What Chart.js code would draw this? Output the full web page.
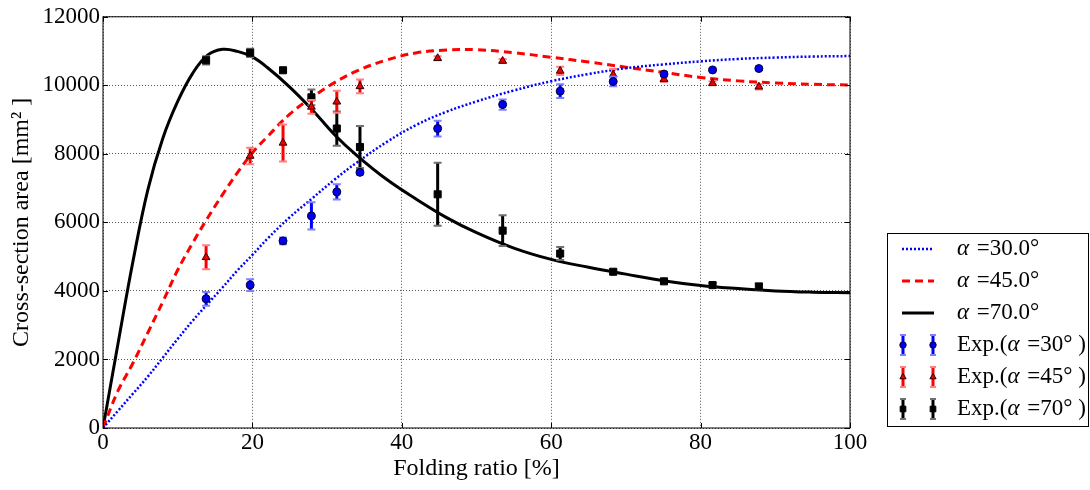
<!DOCTYPE html>
<html>
<head>
<meta charset="utf-8">
<script src="https://cdn.jsdelivr.net/npm/chart.js@4/dist/chart.umd.min.js"></script>
<style>
  body { margin: 0; background: #fff; }
  canvas { display: block; }
</style>
</head>
<body>
<canvas id="chart" width="1090" height="490"></canvas>
<script>
// theory curves
const curveX = [0, 2, 4, 6, 8, 10, 12, 14, 16, 18, 20, 22, 25, 28, 31, 34, 38, 42, 46, 50, 55, 60, 65, 70, 75, 80, 85, 90, 95, 100];
const curve30 = [0, 500, 1000, 1500, 2050, 2600, 3130, 3620, 4100, 4600, 5050, 5520, 6150, 6700, 7250, 7750, 8350, 8850, 9230, 9530, 9850, 10120, 10330, 10500, 10610, 10700, 10770, 10810, 10840, 10855];
const curve45 = [0, 1080, 1890, 2780, 3680, 4610, 5400, 6130, 6810, 7450, 8030, 8500, 9160, 9650, 10080, 10420, 10740, 10950, 11030, 11040, 10950, 10820, 10680, 10530, 10380, 10230, 10130, 10070, 10030, 10010];
const curve70 = [0, 2450, 4850, 6950, 8450, 9530, 10350, 10880, 11050, 10990, 10830, 10520, 9950, 9290, 8560, 7950, 7250, 6670, 6140, 5700, 5250, 4920, 4690, 4490, 4300, 4160, 4070, 4000, 3965, 3950];

// experiments
const expX = [13.8, 19.7, 24.1, 27.9, 31.3, 34.4, 44.8, 53.5, 61.2, 68.3, 75.1, 81.6, 87.8];
const exp30 = [3770, 4170, 5460, 6190, 6890, 7460, 8740, 9440, 9830, 10110, 10330, 10450, 10490];
const exp30Err = [200, 170, 100, 400, 220, 60, 230, 150, 200, 140, 60, 40, 40];
const exp45 = [4980, 7940, 8320, 9370, 9520, 9970, 10790, 10710, 10420, 10310, 10180, 10060, 9960];
const exp45Err = [350, 240, 540, 200, 320, 200, 60, 60, 120, 170, 80, 60, 80];
const exp70 = [10730, 10950, 10440, 9650, 8740, 8200, 6820, 5760, 5090, 4560, 4280, 4170, 4130];
const exp70Err = [120, 120, 50, 230, 500, 610, 920, 450, 190, 60, 60, 60, 90];

const xTicks = [0, 20, 40, 60, 80, 100];
const yTicks = [0, 2000, 4000, 6000, 8000, 10000, 12000];

const serif = "'Liberation Serif', 'DejaVu Serif', serif";

const pts = (xs, ys) => xs.map((x, i) => ({ x: x, y: ys[i] }));

const errorBars = {
  id: 'errorBars',
  beforeDatasetDraw(chart, args) {
    const ds = chart.data.datasets[args.index];
    if (!ds.errors) return;
    const ctx = chart.ctx, y = chart.scales.y;
    ctx.save();
    args.meta.data.forEach((p, i) => {
      const v = ds.data[i].y, e = ds.errors[i];
      const t = y.getPixelForValue(v + e), b = y.getPixelForValue(v - e);
      ctx.strokeStyle = ds.barColor;
      ctx.lineWidth = 3;
      ctx.beginPath();
      ctx.moveTo(p.x, t); ctx.lineTo(p.x, b);
      ctx.stroke();
      ctx.strokeStyle = ds.capColor;
      ctx.lineWidth = 2;
      ctx.beginPath();
      ctx.moveTo(p.x - 4, t); ctx.lineTo(p.x + 4, t);
      ctx.moveTo(p.x - 4, b); ctx.lineTo(p.x + 4, b);
      ctx.stroke();
    });
    ctx.restore();
  }
};

// axes frame with inward ticks
const frame = {
  id: 'frame',
  afterDraw(chart) {
    const { ctx, chartArea: a, scales } = chart;
    ctx.save();
    ctx.strokeStyle = '#000';
    ctx.lineWidth = 1;
    ctx.strokeRect(a.left, a.top, a.right - a.left, a.bottom - a.top);
    ctx.beginPath();
    xTicks.forEach(v => {
      const px = Math.round(scales.x.getPixelForValue(v)) + 0.5;
      ctx.moveTo(px, a.bottom); ctx.lineTo(px, a.bottom - 5);
      ctx.moveTo(px, a.top); ctx.lineTo(px, a.top + 5);
    });
    yTicks.forEach(v => {
      const py = Math.round(scales.y.getPixelForValue(v)) + 0.5;
      ctx.moveTo(a.left, py); ctx.lineTo(a.left + 5, py);
      ctx.moveTo(a.right, py); ctx.lineTo(a.right - 5, py);
    });
    ctx.stroke();
    ctx.restore();
  }
};

function drawLabel(ctx, text, x, y) {
  // alpha in italic, the rest upright
  const parts = text.split('α');
  let cx = x;
  parts.forEach((s, i) => {
    ctx.font = '23px ' + serif;
    ctx.fillText(s, cx, y);
    cx += ctx.measureText(s).width;
    if (i < parts.length - 1) {
      ctx.font = 'italic 23px ' + serif;
      ctx.fillText('α', cx, y);
      cx += ctx.measureText('α').width + 2;
    }
  });
}

const legendBox = {
  id: 'legendBox',
  afterDraw(chart) {
    const ctx = chart.ctx;
    const left = 887, top = 233, rowH = 32;
    ctx.save();
    ctx.strokeStyle = '#000';
    ctx.lineWidth = 1;
    ctx.strokeRect(left + 0.5, top + 0.5, 201, 193);
    ctx.textBaseline = 'middle';
    ctx.fillStyle = '#000';
    chart.data.datasets.forEach((ds, i) => {
      const y = top + 16 + i * rowH;
      if (!ds.errors) {
        ctx.strokeStyle = ds.borderColor;
        ctx.lineWidth = ds.borderWidth;
        ctx.setLineDash(ds.borderDash || []);
        ctx.beginPath();
        ctx.moveTo(902, y); ctx.lineTo(934, y);
        ctx.stroke();
        ctx.setLineDash([]);
      } else {
        [903, 933].forEach(mx => {
          ctx.strokeStyle = ds.barColor;
          ctx.lineWidth = 3;
          ctx.beginPath(); ctx.moveTo(mx, y - 10); ctx.lineTo(mx, y + 10); ctx.stroke();
          ctx.strokeStyle = ds.capColor;
          ctx.lineWidth = 2;
          ctx.beginPath();
          ctx.moveTo(mx - 3, y - 10); ctx.lineTo(mx + 3, y - 10);
          ctx.moveTo(mx - 3, y + 10); ctx.lineTo(mx + 3, y + 10);
          ctx.stroke();
          ctx.fillStyle = ds.backgroundColor;
          ctx.strokeStyle = ds.borderColor;
          ctx.lineWidth = 1;
          Chart.helpers.drawPoint(ctx, {
            pointStyle: ds.pointStyle, radius: ds.pointRadius * 0.8, borderWidth: 1, rotation: 0
          }, mx, y);
        });
        ctx.fillStyle = '#000';
      }
      drawLabel(ctx, ds.label, 957, y);
    });
    ctx.restore();
  }
};

new Chart(document.getElementById('chart'), {
  type: 'scatter',
  data: {
    datasets: [
      { type: 'line', label: 'α =30.0°', data: pts(curveX, curve30), borderColor: '#0000ff', borderWidth: 2.5, borderDash: [2, 2], pointRadius: 0, tension: 0.4, order: 2 },
      { type: 'line', label: 'α =45.0°', data: pts(curveX, curve45), borderColor: '#ff0000', borderWidth: 3, borderDash: [8, 5], pointRadius: 0, tension: 0.4, order: 2 },
      { type: 'line', label: 'α =70.0°', data: pts(curveX, curve70), borderColor: '#000000', borderWidth: 3, pointRadius: 0, tension: 0.4, order: 2 },
      { label: 'Exp.(α =30° )', data: pts(expX, exp30), errors: exp30Err, barColor: '#0000ff', capColor: '#8080ff', pointStyle: 'circle', pointRadius: 4, backgroundColor: '#0000ee', borderColor: '#000033', borderWidth: 1, order: 1 },
      { label: 'Exp.(α =45° )', data: pts(expX, exp45), errors: exp45Err, barColor: '#ff0000', capColor: '#ff8080', pointStyle: 'triangle', pointRadius: 4.5, backgroundColor: '#ee0000', borderColor: '#330000', borderWidth: 1, order: 1 },
      { label: 'Exp.(α =70° )', data: pts(expX, exp70), errors: exp70Err, barColor: '#000000', capColor: '#707070', pointStyle: 'rect', pointRadius: 5, backgroundColor: '#000000', borderColor: '#000000', borderWidth: 1, order: 1 }
    ]
  },
  options: {
    responsive: false,
    animation: false,
    layout: { padding: { top: 12, right: 240, bottom: 0, left: 0 } },
    plugins: { legend: { display: false }, tooltip: { enabled: false } },
    scales: {
      x: {
        type: 'linear', min: 0, max: 100,
        afterFit: s => { s.height = 62; },
        afterBuildTicks: s => { s.ticks = xTicks.map(v => ({ value: v })); },
        ticks: { color: '#000', font: { family: serif, size: 23 }, padding: 1, callback: v => String(v) },
        grid: { color: '#555', drawTicks: false },
        border: { display: false, dash: [1, 2] },
        title: { display: true, text: 'Folding ratio [%]', color: '#000', font: { family: serif, size: 24 }, padding: { bottom: 7 } }
      },
      y: {
        min: 0, max: 12000,
        afterFit: s => { s.width = 103; },
        afterBuildTicks: s => { s.ticks = yTicks.map(v => ({ value: v })); },
        ticks: { color: '#000', font: { family: serif, size: 23 }, padding: 3, callback: v => String(v) },
        grid: { color: '#555', drawTicks: false },
        border: { display: false, dash: [1, 2] },
        title: { display: true, text: 'Cross-section area [mm² ]', color: '#000', font: { family: serif, size: 24 }, padding: { top: 7 } }
      }
    }
  },
  plugins: [errorBars, frame, legendBox]
});
</script>
</body>
</html>
